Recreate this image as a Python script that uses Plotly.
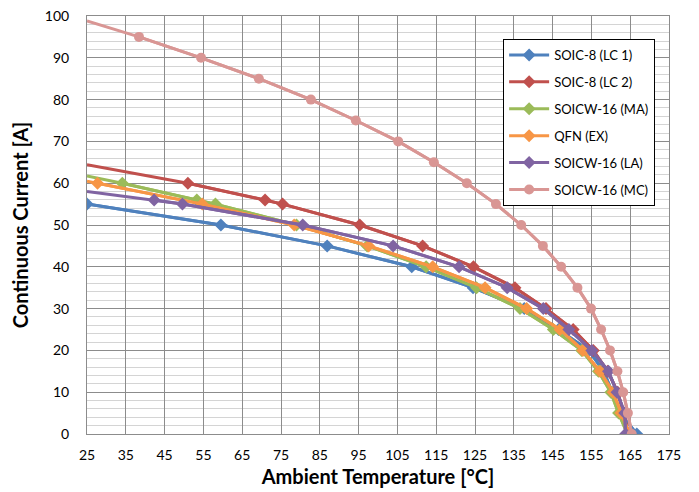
import plotly.graph_objects as go

# ---- data ----
names = ["SOIC-8 (LC 1)", "SOIC-8 (LC 2)", "SOICW-16 (MA)", "QFN (EX)", "SOICW-16 (LA)", "SOICW-16 (MC)"]

lc1_t = [25, 59.5, 86.9, 108.7, 124.5, 137.7, 146.5, 154.3, 158.2, 160.3, 162.4, 166.7]
lc1_i = [55, 50, 45, 40, 35, 30, 25, 20, 15, 10, 5, 0]

lc2_t = [25, 51, 70.9, 75.4, 95.3, 111.5, 124.6, 135.3, 143.3, 150.3, 155.5, 159.2, 161.8, 163.3, 164.5]
lc2_i = [64.4, 60, 56, 55, 50, 45, 40, 35, 30, 25, 20, 15, 10, 5, 0]

ma_t = [25, 34.1, 53.3, 58.1, 79, 97.2, 112.4, 125.4, 136.6, 145.2, 152.5, 156.8, 160, 162, 164.3]
ma_i = [61.7, 60, 56, 55, 50, 45, 40, 35, 30, 25, 20, 15, 10, 5, 0]

ex_t = [25, 27.7, 54.7, 78.4, 97.6, 114.1, 127.6, 138.3, 146.9, 152.8, 157.2, 160.6, 162.6, 164.8]
ex_i = [60.5, 60, 55, 50, 45, 40, 35, 30, 25, 20, 15, 10, 5, 0]

la_t = [25, 42.3, 49.6, 80.6, 103.9, 120.9, 133.3, 142.6, 149.2, 155.1, 159.4, 161.6, 163.6, 163.8]
la_i = [58, 56, 55, 50, 45, 40, 35, 30, 25, 20, 15, 10, 5, 0]

mc_t = [25, 38.4, 54.4, 69.3, 82.7, 94.3, 105.2, 114.4, 122.9, 130.4, 136.9, 142.5, 147.2,
        151.4, 154.9, 157.5, 159.8, 161.7, 163.2, 164.4, 165.4]
mc_i = [98.8, 95, 90, 85, 80, 75, 70, 65, 60, 55, 50, 45, 40, 35, 30, 25, 20, 15, 10, 5, 0]

x_ticks = list(range(25, 176, 10))
y_ticks = list(range(0, 101, 10))

# ---- styling ----
series = [
    (lc1_t, lc1_i, "#4F81BD", "diamond", 10, True),
    (lc2_t, lc2_i, "#C0504D", "diamond", 10, False),
    (ma_t, ma_i, "#9BBB59", "diamond", 10, False),
    (ex_t, ex_i, "#F79646", "diamond", 10, False),
    (la_t, la_i, "#8064A2", "diamond", 10, False),
    (mc_t, mc_i, "#D99694", "circle", 10, False),
]

fig = go.Figure()
for k, (t, i, col, sym, ms, first_marked) in enumerate(series):
    # full line (first point sits on the axis edge without a marker)
    fig.add_trace(go.Scatter(x=t, y=i, mode="lines", line=dict(color=col, width=3),
                             showlegend=False, hoverinfo="skip"))
    s = 0 if first_marked else 1
    fig.add_trace(go.Scatter(x=t[s:], y=i[s:], mode="lines+markers", name=names[k],
                             legendgroup=names[k],
                             line=dict(color=col, width=3),
                             marker=dict(symbol=sym, size=ms, color=col, line=dict(width=0))))

font_family = "Lato, 'Open Sans', sans-serif"
fig.update_layout(
    width=691, height=484,
    margin=dict(l=79, r=30, t=8, b=58),
    paper_bgcolor="white", plot_bgcolor="white",
    font=dict(family=font_family, size=14, color="black"),
    legend=dict(x=0.715, y=0.945, xanchor="left", yanchor="top",
                bgcolor="white", bordercolor="black", borderwidth=1,
                font=dict(size=13, color="black"), tracegroupgap=7,
                itemwidth=40),
    xaxis=dict(range=[25, 175], tickvals=x_ticks, ticktext=[str(v) for v in x_ticks],
               showgrid=True, gridcolor="#8c8c8c", gridwidth=1,
               showline=True, linecolor="#8c8c8c", linewidth=1, mirror=True,
               zeroline=False, ticks="", ticklabelstandoff=8, automargin=False,
               ticklabeloverflow="allow",
               title=dict(text="<b>Ambient Temperature [°C]</b>", font=dict(size=20), standoff=8)),
    yaxis=dict(range=[0, 100], tickvals=y_ticks, ticktext=[str(v) for v in y_ticks],
               showgrid=True, gridcolor="#8c8c8c", gridwidth=1,
               minor=dict(dtick=2, tick0=0, showgrid=True, gridcolor="#d4d4d4", gridwidth=1),
               showline=True, linecolor="#8c8c8c", linewidth=1, mirror=True,
               zeroline=False, ticks="", ticklabelstandoff=14, automargin=False,
               ticklabeloverflow="allow",
               title=dict(text="<b>Continuous Current [A]</b>", font=dict(size=20), standoff=16)),
)

fig.write_html("out.html")
